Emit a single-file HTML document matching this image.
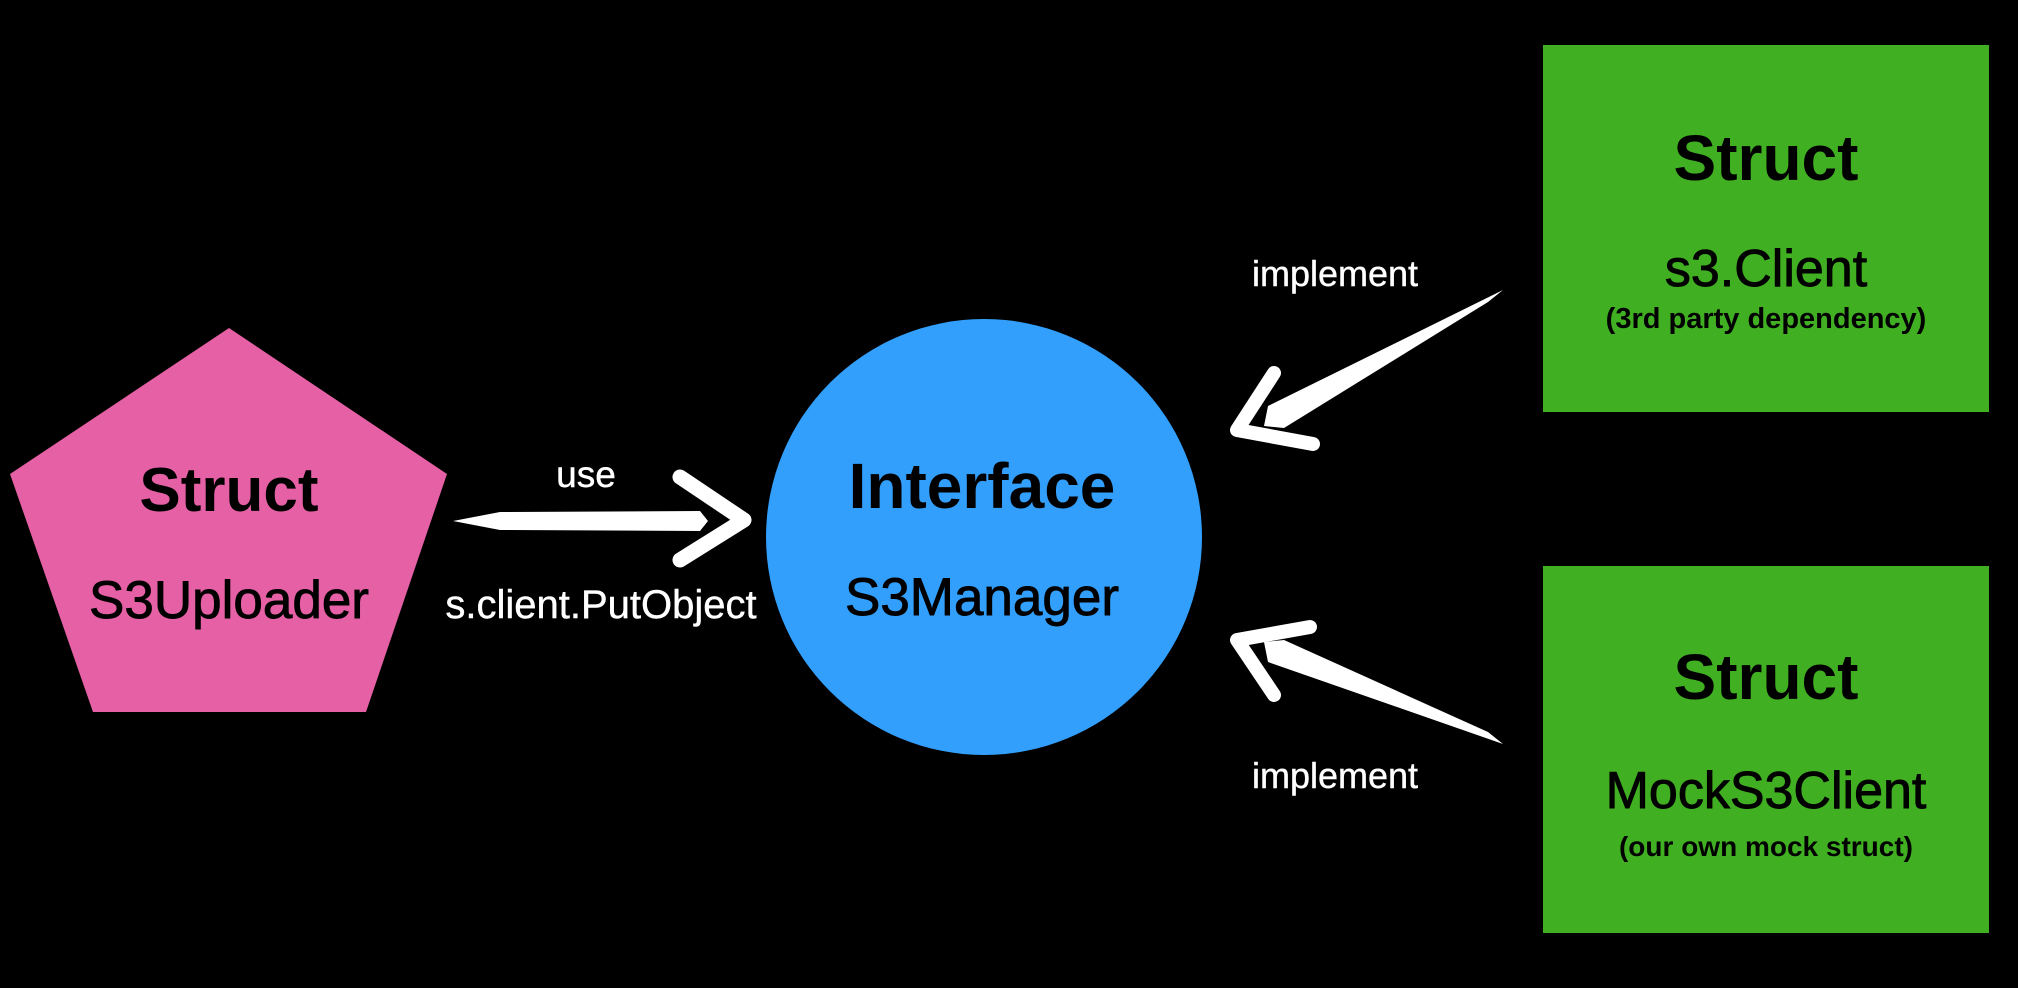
<!DOCTYPE html>
<html><head><meta charset="utf-8"><style>
html,body{margin:0;padding:0;background:#000;}
svg{display:block;}
text{font-family:"Liberation Sans",Arial,sans-serif;}
.m{stroke:#000;stroke-width:0.9px;}
.mw{stroke:#fff;stroke-width:0.4px;}
</style></head><body>
<svg width="2018" height="988" viewBox="0 0 2018 988" xmlns="http://www.w3.org/2000/svg">
<rect width="2018" height="988" fill="#000"/>
<polygon points="229,328 447,474 366,712 93,712 10,474" fill="#e660a6"/>
<text x="229" y="511" font-size="62" font-weight="bold" text-anchor="middle" fill="#000">Struct</text>
<text class="m" x="229" y="618" font-size="53" text-anchor="middle" fill="#000">S3Uploader</text>
<circle cx="984" cy="537" r="218" fill="#339ffc"/>
<text x="982" y="508" font-size="64" font-weight="bold" text-anchor="middle" fill="#000">Interface</text>
<text class="m" x="982" y="615" font-size="53" text-anchor="middle" fill="#000">S3Manager</text>
<rect x="1543" y="45" width="446" height="367" fill="#41af22"/>
<rect x="1543" y="566" width="446" height="367" fill="#41af22"/>
<text x="1766" y="180" font-size="64" font-weight="bold" text-anchor="middle" fill="#000">Struct</text>
<text class="m" x="1766" y="286" font-size="52" text-anchor="middle" fill="#000">s3.Client</text>
<text x="1766" y="328" font-size="29" font-weight="bold" text-anchor="middle" fill="#000">(3rd party dependency)</text>
<text x="1766" y="699" font-size="64" font-weight="bold" text-anchor="middle" fill="#000">Struct</text>
<text class="m" x="1766" y="808" font-size="52" text-anchor="middle" fill="#000">MockS3Client</text>
<text x="1766" y="856" font-size="28" font-weight="bold" text-anchor="middle" fill="#000">(our own mock struct)</text>
<text class="mw" x="586" y="487" font-size="37" text-anchor="middle" fill="#fff">use</text>
<text class="mw" x="601" y="618" font-size="40" text-anchor="middle" fill="#fff">s.client.PutObject</text>
<text class="mw" x="1335" y="286" font-size="36" text-anchor="middle" fill="#fff">implement</text>
<text class="mw" x="1335" y="788" font-size="36" text-anchor="middle" fill="#fff">implement</text>
<polygon points="453,521 500,512 700,511 708,521 700,531 500,530" fill="#fff"/>
<polyline points="680,477 744,520 680,560" fill="none" stroke="#fff" stroke-width="15" stroke-linejoin="round" stroke-linecap="round"/>
<polygon points="1503,290 1268,406 1264,426 1284,428 1488,302" fill="#fff"/>
<polyline points="1274,373 1237,430 1313,444" fill="none" stroke="#fff" stroke-width="14" stroke-linejoin="round" stroke-linecap="round"/>
<polygon points="1503,744 1268,662 1264,642 1284,640 1488,732" fill="#fff"/>
<polyline points="1274,695 1237,640 1310,627" fill="none" stroke="#fff" stroke-width="14" stroke-linejoin="round" stroke-linecap="round"/>
</svg>
</body></html>
